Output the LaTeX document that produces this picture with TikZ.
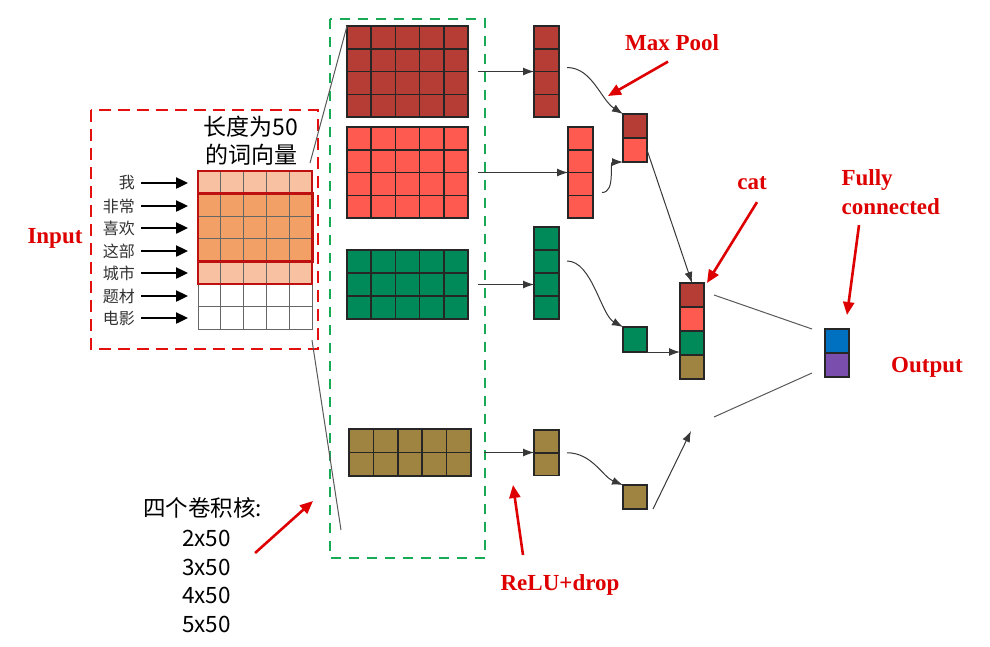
\documentclass[tikz,border=0pt]{standalone}
\usepackage{fontspec}
\setmainfont{Liberation Serif}
\newfontfamily\cjk{Noto Sans CJK SC}
\usepackage{tikz}
\usetikzlibrary{positioning,calc,arrows.meta}

\definecolor{mapDark}{RGB}{182,60,54}
\definecolor{mapRed}{RGB}{255,90,80}
\definecolor{mapGreen}{RGB}{0,138,90}
\definecolor{mapOlive}{RGB}{158,132,64}
\definecolor{outBlue}{RGB}{0,112,192}
\definecolor{outPurple}{RGB}{122,78,172}
\definecolor{embLight}{RGB}{248,194,162}
\definecolor{embDark}{RGB}{242,160,102}
\definecolor{winRed}{RGB}{190,16,16}
\definecolor{boxRed}{RGB}{228,16,16}
\definecolor{boxGreen}{RGB}{24,170,84}
\definecolor{noteRed}{RGB}{222,0,0}

\begin{document}
\begin{tikzpicture}[x=1pt,y=-1pt]
		\tikzset{mapline/.style={line width=1.5pt, draw=black!85}}
		\tikzset{embline/.style={line width=0.9pt, draw=black!60}}
		\tikzset{flow/.style={-{Latex[length=11pt,width=8pt]}, line width=1pt, draw=black!78}}
		\tikzset{kernline/.style={line width=1pt, draw=black!65}}
		\tikzset{wordarrow/.style={-{Triangle[length=12pt,width=11pt]}, line width=2.4pt}}
		\tikzset{note/.style={font=\bfseries\fontsize{23}{29}\selectfont, text=noteRed}}
		\tikzset{notearrow/.style={-{Triangle[length=13pt,width=11pt]}, line width=2.6pt, draw=noteRed}}
		\tikzset{wordstyle/.style={font=\cjk\fontsize{16}{18}\selectfont, text=black!80, anchor=east, inner sep=1pt}}
		\tikzset{kernstyle/.style={font=\cjk\fontsize{22.5}{26}\selectfont, anchor=west, inner sep=0pt}}
		
		\fill[white] (0,0) rectangle (990,646);
		\useasboundingbox (0,0) rectangle (990,646);
		
		\newcommand\drawMap[9] % {x} {y} {cols} {rows} {cell w} {cell h} {fill} {line style} {name}
		{
			\node[
			#8, fill=#7,
			minimum width=#3*#5, minimum height=#4*#6,
			inner sep=0pt, outer sep=0pt, anchor=north west
			] at (#1, #2) (#9) {};
			\foreach \i in {0,...,#3}
				\draw[#8] ($(#9.north west)!\i/#3!(#9.north east)$) -- ($(#9.south west)!\i/#3!(#9.south east)$);
			\foreach \j in {0,...,#4}
				\draw[#8] ($(#9.north west)!\j/#4!(#9.south west)$) -- ($(#9.north east)!\j/#4!(#9.south east)$);
		}
		
		% input sentence
		\drawMap{198}{171}{5}{1}{22.8}{22.6}{embLight}{embline}{inrow1}
		\drawMap{198}{193.6}{5}{3}{22.8}{22.6}{embDark}{embline}{inmid}
		\drawMap{198}{261.4}{5}{1}{22.8}{22.6}{embLight}{embline}{inrow5}
		\drawMap{198}{284}{5}{2}{22.8}{22.6}{white}{embline}{inblank}
		
		\draw[winRed, line width=2.8pt] (inrow1.north west) rectangle (inrow5.south east);
		\draw[winRed, line width=2.8pt] (inmid.north west) rectangle ([xshift=1pt]inmid.south east);
		
		\node[wordstyle] at (136,183) (w1) {我};
		\node[wordstyle] at (136,206) (w2) {非常};
		\node[wordstyle] at (136,228) (w3) {喜欢};
		\node[wordstyle] at (136,251) (w4) {这部};
		\node[wordstyle] at (136,273) (w5) {城市};
		\node[wordstyle] at (136,296) (w6) {题材};
		\node[wordstyle] at (136,318) (w7) {电影};
		
		\draw[wordarrow, shorten <=5pt, shorten >=10pt] (w1.east) -- (w1.east -| inrow1.west);
		\draw[wordarrow, shorten <=5pt, shorten >=10pt] (w2.east) -- (w2.east -| inmid.west);
		\draw[wordarrow, shorten <=5pt, shorten >=10pt] (w3.east) -- (w3.east -| inmid.west);
		\draw[wordarrow, shorten <=5pt, shorten >=10pt] (w4.east) -- (w4.east -| inmid.west);
		\draw[wordarrow, shorten <=5pt, shorten >=10pt] (w5.east) -- (w5.east -| inrow5.west);
		\draw[wordarrow, shorten <=5pt, shorten >=10pt] (w6.east) -- (w6.east -| inblank.west);
		\draw[wordarrow, shorten <=5pt, shorten >=10pt] (w7.east) -- (w7.east -| inblank.west);
		
		\node[font=\cjk\fontsize{23}{28}\selectfont, align=center] at (251,141) (dimlabel) {长度为50\\的词向量};
		
		\draw[boxRed, line width=2.8pt, dash pattern=on 12pt off 7pt] (91,110) rectangle (318,349);
		\node[note] at (55,238) (inputlabel) {Input};
		
		% convolution feature maps
		\drawMap{347}{26}{5}{4}{24.2}{22.75}{mapDark}{mapline}{conv1}
		\drawMap{347}{127}{5}{4}{24.2}{22.75}{mapRed}{mapline}{conv2}
		\drawMap{347}{250}{5}{3}{24.2}{23}{mapGreen}{mapline}{conv3}
		\drawMap{349}{429}{5}{2}{24.4}{23.5}{mapOlive}{mapline}{conv4}
		
		\draw[boxGreen, line width=2.8pt, dash pattern=on 10pt off 8pt] (330,19) rectangle (485,558);
		
		\coordinate (kernend) at (341,530);
		\draw[kernline] ($(inrow1.north east)+(-2,-8)$) -- (conv1.north west);
		\draw[kernline] ($(inblank.south east)+(0,11)$) -- (kernend);
		
		% after relu
		\drawMap{534}{26}{1}{4}{25}{22.75}{mapDark}{mapline}{pool1}
		\drawMap{568}{127}{1}{4}{25}{22.75}{mapRed}{mapline}{pool2}
		\drawMap{534}{227}{1}{4}{25}{23}{mapGreen}{mapline}{pool3}
		\drawMap{534}{430}{1}{2}{25}{22.75}{mapOlive}{mapline}{pool4}
		
		\draw[flow] ([xshift=10pt]conv1.east) -- (conv1.east -| pool1.west);
		\draw[flow] ([xshift=10pt]conv2.east) -- (conv2.east -| pool2.west);
		\draw[flow] ([xshift=10pt]conv3.east) -- (conv3.east -| pool3.west);
		\draw[flow] ([xshift=13pt]conv4.east) -- (conv4.east -| pool4.west);
		
		% max pooling
		\drawMap{623}{114}{1}{1}{24}{24}{mapDark}{mapline}{mx1}
		\drawMap{623}{138}{1}{1}{24}{24}{mapRed}{mapline}{mx2}
		\drawMap{623}{327}{1}{1}{24}{25}{mapGreen}{mapline}{mx3}
		\drawMap{623}{485}{1}{1}{24}{24}{mapOlive}{mapline}{mx4}
		
		\draw[flow] ([shift={(8,-4)}]pool1.east) .. controls +(25,0) and +(-22,-14) .. (mx1.north west);
		\draw[flow] ([shift={(9,20)}]pool2.east) .. controls +(14,0) and +(-14,0) .. (mx2.south west);
		\draw[flow] ([shift={(8,-12)}]pool3.east) .. controls +(25,0) and +(-22,-12) .. (mx3.north west);
		\draw[flow] ([xshift=8pt]pool4.east) .. controls +(25,0) and +(-20,-8) .. (mx4.north west);
		
		% concatenation
		\drawMap{680}{283}{1}{1}{24}{24}{mapDark}{mapline}{cat1}
		\drawMap{680}{307}{1}{1}{24}{24}{mapRed}{mapline}{cat2}
		\drawMap{680}{331}{1}{1}{24}{24}{mapGreen}{mapline}{cat3}
		\drawMap{680}{355}{1}{1}{24}{24}{mapOlive}{mapline}{cat4}
		
		\coordinate (catin) at (691,431);
		\draw[flow] (mx2.east) -- (cat1.north);
		\draw[flow] (mx3.south east) -- (mx3.south east -| cat3.west);
		\draw[flow] ([xshift=6pt]mx4.south east) -- (catin);
		
		% output
		\drawMap{825}{329}{1}{1}{24}{24}{outBlue}{mapline}{out1}
		\drawMap{825}{353}{1}{1}{24}{24}{outPurple}{mapline}{out2}
		
		\coordinate (catout) at (714,417);
		\draw[kernline] ([xshift=10pt]cat1.east) -- ([xshift=-13pt]out1.north west);
		\draw[kernline] (catout) -- ([shift={(-13,-4)}]out2.south west);
		
		% kernel sizes
		\node[kernstyle] at (143,508) (k0) {四个卷积核:};
		\node[kernstyle] at (182,538) (k1) {2x50};
		\node[kernstyle] at (182,567) (k2) {3x50};
		\node[kernstyle] at (182,595) (k3) {4x50};
		\node[kernstyle] at (182,624) (k4) {5x50};
		
		% notes
		\node[note] at (672,43) (maxlabel) {Max Pool};
		\node[note] at (752,183) (catlabel) {cat};
		\node[note, align=left, anchor=west] at (838,192) (fclabel) {Fully\\connected};
		\node[note] at (927,367) (outlabel) {Output};
		\node[note] at (560,585) (relulabel) {ReLU+drop};
		
		\coordinate (maxtip) at (608,96);
		\coordinate (fctip) at (847,315);
		\coordinate (relutip) at (513,485);
		\coordinate (kerntip) at (313,501);
		
		\draw[notearrow] ($(maxlabel.south)+(-4,7)$) -- (maxtip);
		\draw[notearrow] ($(catlabel.south)+(5,9)$) -- ([xshift=3pt]cat1.north east);
		\draw[notearrow] ($(fclabel.south west)+(21,7)$) -- (fctip);
		\draw[notearrow] ($(relulabel.north)+(-37,-16)$) -- (relutip);
		\draw[notearrow] ($(k1.east)+(24,15)$) -- (kerntip);
		
\end{tikzpicture}
\end{document}
